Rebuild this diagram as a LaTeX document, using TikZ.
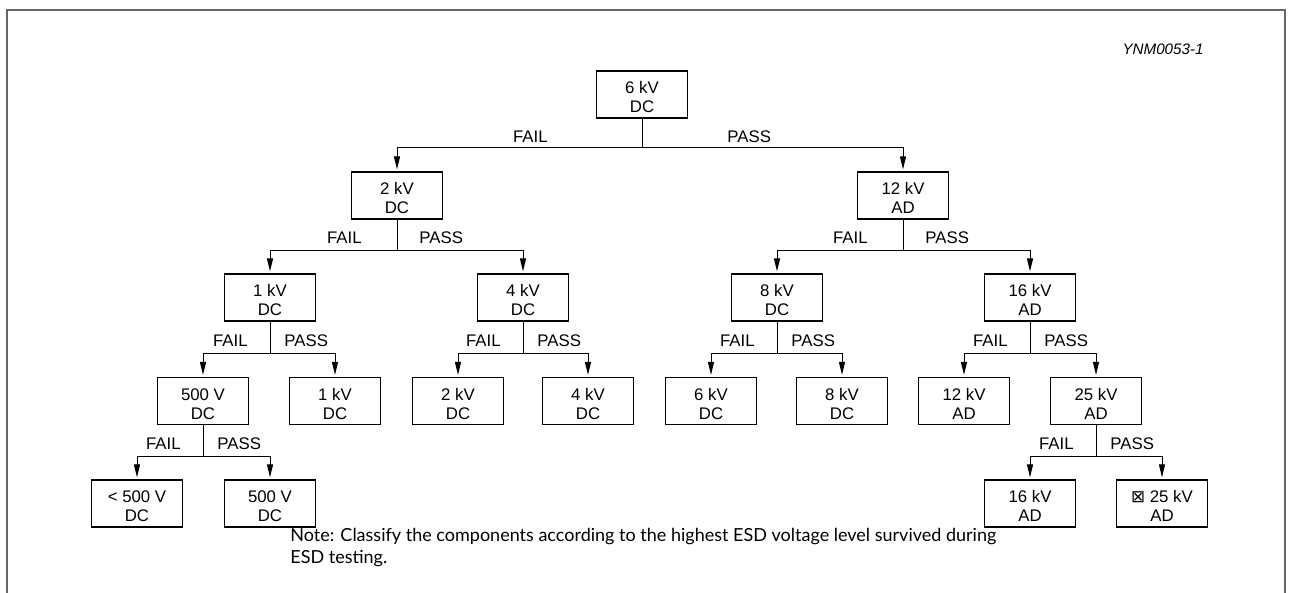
\documentclass[tikz,border=0pt]{standalone}
\usepackage{fontspec}
\setmainfont{Liberation Sans}
\newfontfamily\notefont{Lato}
\newfontfamily\symbolfont{DejaVu Sans}
\usetikzlibrary{arrows.meta}

\tikzset{
  testbox/.style={draw, line width=0.6pt, minimum width=45.5pt, minimum height=23.5pt,
    inner sep=0pt, align=center, text height=18.5pt, text depth=0pt,
    font=\fontsize{8.4}{9.5}\selectfont},
  branch/.style={line width=0.5pt, -{Triangle[length=6.5pt,width=3pt]}, shorten >=1pt},
  outcome/.style={inner sep=0pt, font=\fontsize{8.4}{9.5}\selectfont},
}

\begin{document}
\begin{tikzpicture}[x=0.5pt, y=-0.5pt]
  \useasboundingbox (0,0) rectangle (1292,593);

  % Draw the open frame and the figure code
  \draw[line width=1pt, black!60] (7,593) -- (7,10) -- (1285,10) -- (1285,593);
  \node[inner sep=0pt, anchor=base east, font=\itshape\fontsize{7.6}{9}\selectfont] (figcode) at (1204,55) {YNM0053-1};

  % Draw the test levels
  \node[testbox] (dc6k) at (642,94.5) {6 kV\\DC};
  \node[testbox] (dc2k) at (397,195.5) {2 kV\\DC};
  \node[testbox] (ad12k) at (903,195.5) {12 kV\\AD};
  \node[testbox] (dc1k) at (270,297.5) {1 kV\\DC};
  \node[testbox] (dc4k) at (523,297.5) {4 kV\\DC};
  \node[testbox] (dc8k) at (777,297.5) {8 kV\\DC};
  \node[testbox] (ad16k) at (1030,297.5) {16 kV\\AD};
  \node[testbox] (dc500) at (203,401) {500 V\\DC};
  \node[testbox] (dc1kb) at (335,401) {1 kV\\DC};
  \node[testbox] (dc2kb) at (458,401) {2 kV\\DC};
  \node[testbox] (dc4kb) at (588,401) {4 kV\\DC};
  \node[testbox] (dc6kb) at (711,401) {6 kV\\DC};
  \node[testbox] (dc8kb) at (842,401) {8 kV\\DC};
  \node[testbox] (ad12kb) at (964,401) {12 kV\\AD};
  \node[testbox] (ad25k) at (1096,401) {25 kV\\AD};
  \node[testbox] (dclow) at (137,503.5) {< 500 V\\DC};
  \node[testbox] (dc500b) at (270,503.5) {500 V\\DC};
  \node[testbox] (ad16kb) at (1030,503.5) {16 kV\\AD};
  \node[testbox] (ad25kb) at (1162,503.5) {{\symbolfont ⊠} 25 kV\\AD};

  % Draw the FAIL / PASS branches
  \draw[branch] (dc6k.south) -- ++(0,29) coordinate (j6k) -| (dc2k.north);
  \draw[branch] (j6k) -| (ad12k.north);
  \draw[branch] (dc2k.south) -- ++(0,31) coordinate (j2k) -| (dc1k.north);
  \draw[branch] (j2k) -| (dc4k.north);
  \draw[branch] (ad12k.south) -- ++(0,31) coordinate (j12k) -| (dc8k.north);
  \draw[branch] (j12k) -| (ad16k.north);
  \draw[branch] (dc1k.south) -- ++(0,32) coordinate (j1k) -| (dc500.north);
  \draw[branch] (j1k) -| (dc1kb.north);
  \draw[branch] (dc4k.south) -- ++(0,32) coordinate (j4k) -| (dc2kb.north);
  \draw[branch] (j4k) -| (dc4kb.north);
  \draw[branch] (dc8k.south) -- ++(0,32) coordinate (j8k) -| (dc6kb.north);
  \draw[branch] (j8k) -| (dc8kb.north);
  \draw[branch] (ad16k.south) -- ++(0,32) coordinate (j16k) -| (ad12kb.north);
  \draw[branch] (j16k) -| (ad25k.north);
  \draw[branch] (dc500.south) -- ++(0,31) coordinate (j500) -| (dclow.north);
  \draw[branch] (j500) -| (dc500b.north);
  \draw[branch] (ad25k.south) -- ++(0,31) coordinate (j25k) -| (ad16kb.north);
  \draw[branch] (j25k) -| (ad25kb.north);

  % Label the branches
  \node[outcome, anchor=base east] (fail6k) at ([shift={(-94,-5)}]j6k) {FAIL};
  \node[outcome, anchor=base west] (pass6k) at ([shift={(85,-5)}]j6k) {PASS};
  \node[outcome, anchor=base east] (fail2k) at ([shift={(-35,-7)}]j2k) {FAIL};
  \node[outcome, anchor=base west] (pass2k) at ([shift={(22,-7)}]j2k) {PASS};
  \node[outcome, anchor=base east] (fail12k) at ([shift={(-35,-7)}]j12k) {FAIL};
  \node[outcome, anchor=base west] (pass12k) at ([shift={(22,-7)}]j12k) {PASS};
  \node[outcome, anchor=base east] (fail1k) at ([shift={(-22,-7)}]j1k) {FAIL};
  \node[outcome, anchor=base west] (pass1k) at ([shift={(14,-7)}]j1k) {PASS};
  \node[outcome, anchor=base east] (fail4k) at ([shift={(-22,-7)}]j4k) {FAIL};
  \node[outcome, anchor=base west] (pass4k) at ([shift={(14,-7)}]j4k) {PASS};
  \node[outcome, anchor=base east] (fail8k) at ([shift={(-22,-7)}]j8k) {FAIL};
  \node[outcome, anchor=base west] (pass8k) at ([shift={(14,-7)}]j8k) {PASS};
  \node[outcome, anchor=base east] (fail16k) at ([shift={(-22,-7)}]j16k) {FAIL};
  \node[outcome, anchor=base west] (pass16k) at ([shift={(14,-7)}]j16k) {PASS};
  \node[outcome, anchor=base east] (fail500) at ([shift={(-22,-7)}]j500) {FAIL};
  \node[outcome, anchor=base west] (pass500) at ([shift={(14,-7)}]j500) {PASS};
  \node[outcome, anchor=base east] (fail25k) at ([shift={(-22,-7)}]j25k) {FAIL};
  \node[outcome, anchor=base west] (pass25k) at ([shift={(14,-7)}]j25k) {PASS};

  % Add the note
  \node[inner sep=0pt, anchor=base west, align=left, font=\notefont\fontsize{9}{11}\selectfont] (note) at (290,563)
    {Note: Classify the components according to the highest ESD voltage level survived during\\ESD testing.};
\end{tikzpicture}
\end{document}
